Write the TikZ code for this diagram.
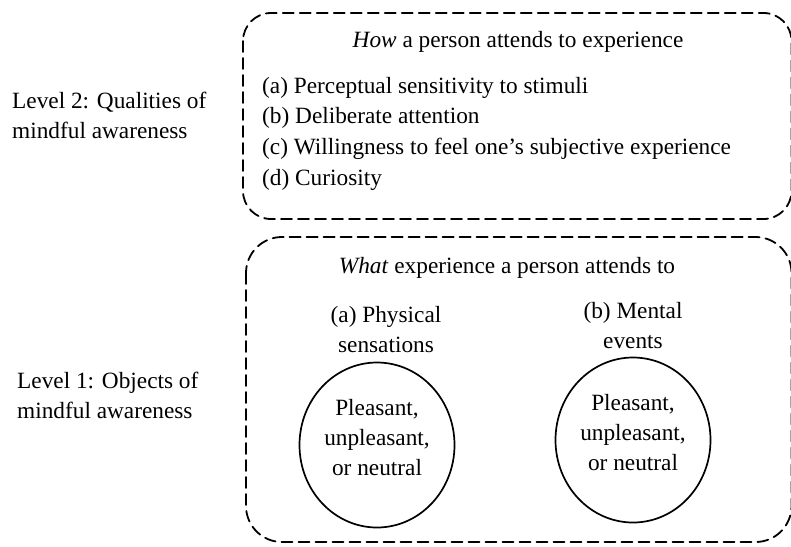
\documentclass[tikz,border=0pt]{standalone}
\usepackage{fontspec}
\setmainfont{Liberation Serif}
\usetikzlibrary{shapes.geometric}

\begin{document}
\begin{tikzpicture}[x=1pt,y=-1pt,line cap=round]
  % Styles
  \tikzset{
    dashbox/.style={line width=1.8pt, dash pattern=on 11pt off 6pt, rounded corners=#1},
    txt/.style={font=\fontsize{23.3}{30}\selectfont, inner sep=0pt},
    oval/.style={draw, line width=1.7pt, ellipse, minimum width=155pt, minimum height=165pt, inner sep=0pt}
  }

  \useasboundingbox (0,0) rectangle (791,546);
  \clip (0,0) rectangle (791,546);

  % Dashed boxes
  \draw[dashbox=28pt] (243,13) rectangle (791.5,219);
  \draw[dashbox=36pt] (246,237) rectangle (791.5,542);

  % Level labels
  \node[txt, anchor=west, align=left] (lvltwo) at (12,115) {Level 2: Qualities of\\mindful awareness};
  \node[txt, anchor=west, align=left] (lvlone) at (17,395) {Level 1: Objects of\\mindful awareness};

  % Level 2 contents
  \node[txt] (how) at (518,42) {\textit{How} a person attends to experience};
  \node[txt, anchor=west] (qa) at (262,88) {(a) Perceptual sensitivity to stimuli};
  \node[txt, anchor=west] (qb) at (262,118) {(b) Deliberate attention};
  \node[txt, anchor=west] (qc) at (262,149) {(c) Willingness to feel one’s subjective experience};
  \node[txt, anchor=west] (qd) at (262,180) {(d) Curiosity};

  % Level 1 contents
  \node[txt] (what) at (507,268) {\textit{What} experience a person attends to};
  \node[txt, align=center] (phys) at (386,330) {(a) Physical\\sensations};
  \node[txt, align=center] (ment) at (633,326) {(b) Mental\\events};

  \node[oval] (physov) at (377,445) {};
  \node[oval] (mentov) at (633,440) {};
  \node[txt, align=center] (physin) at ([yshift=7pt]physov.center) {Pleasant,\\unpleasant,\\or neutral};
  \node[txt, align=center] (mentin) at ([yshift=7pt]mentov.center) {Pleasant,\\unpleasant,\\or neutral};
\end{tikzpicture}
\end{document}
